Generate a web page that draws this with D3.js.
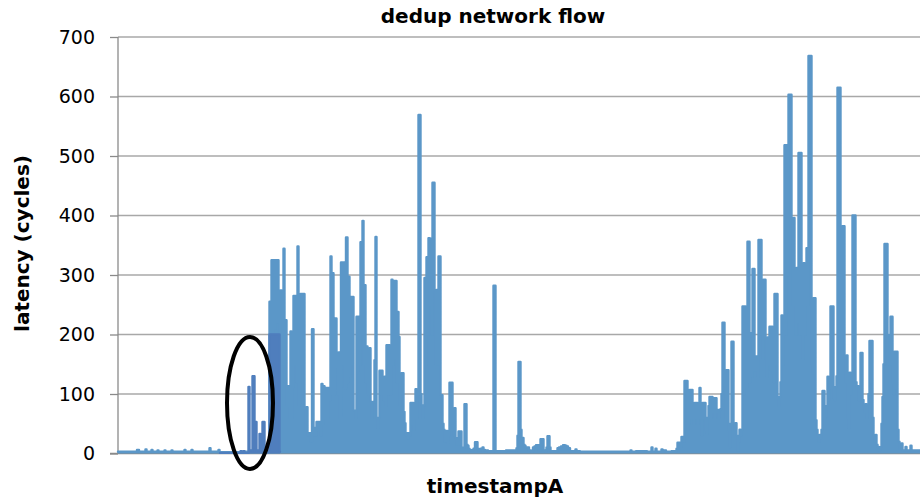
<!DOCTYPE html>
<html><head><meta charset="utf-8">
<script src="https://cdn.jsdelivr.net/npm/d3@7/dist/d3.min.js"></script>
<style>
html,body{margin:0;padding:0;background:#fff;}
svg{display:block;font-family:"DejaVu Sans",sans-serif;}
</style></head>
<body><svg id="chart" width="920" height="501"></svg>
<script>
// ---- data ----
const title = "dedup network flow";
const xTitle = "timestampA";
const yTitle = "latency (cycles)";
const yTicks = [0, 100, 200, 300, 400, 500, 600, 700];
const tDomain = [0, 802];
// main series samples: [timestamp, latency]
const flow = [
[0,3],[18,3],[20,6],[22,3],[27,3],[28,7],[29,3],[33,3],[34,6],[35,3],[39,3],[40,5],[41,3],[46,3],[47,5],[48,3],
[53,3],[54,5],[55,3],[66,3],[67,6],[68,3],[73,3],[74,6],[75,3],[91,3],[92,9],[93,3],[100,3],[101,6],[102,2],[151,3],
[152,255],[153,150],[154,325],[155,200],[156,325],[157,210],[158,325],[159,220],[160,325],[161,274],[162,200],[163,274],
[164,150],[165,274],[166,344],[167,120],[168,224],[169,80],[170,113],[171,113],[172,60],[173,205],[174,60],[175,113],
[176,265],[177,150],[178,265],[179,120],[180,348],[181,80],[182,85],[183,268],[184,150],[185,268],[186,268],[187,78],
[188,40],[189,78],[190,30],[192,34],[193,20],[195,209],[196,30],[197,43],[198,30],[199,53],[200,40],[201,53],[202,53],
[203,30],[204,117],[205,50],[206,113],[207,60],[209,110],[210,60],[211,110],[212,90],[213,331],[214,100],[215,303],
[216,100],[218,227],[219,145],[220,100],[221,170],[222,60],[224,321],[225,150],[226,321],[227,110],[229,363],[230,120],
[231,297],[232,130],[233,263],[234,150],[235,263],[236,72],[237,72],[238,60],[239,230],[240,140],[241,230],[242,150],
[243,355],[244,200],[245,391],[246,150],[247,283],[248,120],[249,180],[250,100],[251,140],[252,177],[253,87],[254,60],
[255,85],[256,87],[257,157],[258,364],[259,60],[260,43],[261,60],[262,139],[263,100],[264,139],[265,129],[266,90],
[267,129],[268,80],[269,182],[270,100],[271,182],[272,112],[273,100],[274,292],[275,150],[276,290],[277,160],[278,290],
[279,120],[280,238],[281,196],[282,80],[283,100],[284,135],[285,135],[286,70],[287,51],[288,30],[289,34],[290,25],
[291,34],[292,30],[293,85],[294,50],[295,85],[296,40],[297,60],[298,108],[299,60],[300,100],[301,569],[302,569],
[303,100],[304,81],[305,60],[306,81],[307,295],[308,150],[309,330],[310,200],[311,362],[312,250],[313,361],[314,200],
[315,455],[316,455],[317,275],[318,150],[319,275],[320,150],[321,331],[322,331],[323,98],[324,98],[325,50],[326,40],
[327,20],[328,30],[329,38],[330,18],[331,30],[332,119],[333,40],[334,119],[335,76],[336,30],[337,76],[338,26],[339,15],
[340,26],[341,37],[342,15],[343,37],[344,10],[345,9],[346,10],[347,83],[348,83],[349,15],[350,13],[351,8],[352,6],
[354,5],[355,6],[356,8],[358,19],[359,19],[360,8],[361,5],[364,8],[365,10],[366,6],[368,5],[369,5],[371,4],[375,4],
[376,282],[377,282],[378,4],[398,5],[399,9],[400,30],[401,154],[402,154],[403,40],[404,26],[405,26],[406,15],[407,13],
[408,10],[410,10],[412,5],[414,4],[416,10],[417,12],[419,14],[420,14],[422,5],[423,24],[424,24],[425,24],[426,5],
[428,4],[429,10],[430,29],[431,29],[432,10],[433,4],[439,4],[440,9],[442,10],[444,12],[446,14],[448,13],[449,12],
[451,9],[453,4],[457,4],[458,7],[459,4],[465,3],[512,3],[513,5],[514,3],[522,4],[525,4],[533,3],[534,10],[535,3],
[537,3],[538,8],[539,3],[543,3],[544,7],[545,3],[547,5],[549,3],[558,4],[559,8],[560,18],[562,18],[563,12],[564,28],
[565,28],[566,20],[567,122],[568,122],[569,122],[570,40],[571,50],[572,107],[573,60],[574,107],[575,65],[576,50],
[577,85],[578,60],[579,85],[580,50],[581,76],[582,110],[583,60],[584,31],[585,85],[586,60],[587,85],[588,40],[589,34],
[590,60],[591,80],[592,95],[593,60],[594,95],[595,70],[596,93],[597,60],[598,93],[599,70],[600,73],[601,60],[602,73],
[603,75],[604,100],[605,220],[606,220],[607,115],[608,60],[609,140],[610,140],[611,40],[612,11],[613,50],[614,188],
[615,188],[616,51],[617,40],[618,51],[619,30],[620,5],[621,20],[622,40],[623,30],[624,40],[625,247],[626,100],
[627,247],[628,112],[629,112],[630,356],[631,356],[632,120],[633,202],[634,130],[635,310],[636,310],[637,140],
[638,163],[639,163],[640,130],[641,359],[642,200],[643,359],[644,292],[645,160],[646,292],[647,292],[648,195],
[649,130],[650,195],[651,150],[652,213],[653,140],[654,213],[655,135],[656,120],[657,268],[658,150],[659,268],
[660,95],[661,80],[662,95],[663,120],[664,232],[665,150],[666,232],[667,518],[668,200],[669,518],[670,300],[671,603],
[672,603],[673,603],[674,396],[675,250],[676,396],[677,312],[678,200],[679,312],[680,220],[681,505],[682,200],
[683,505],[684,272],[685,160],[686,320],[687,200],[688,320],[689,345],[690,250],[691,668],[692,668],[693,668],
[694,150],[695,135],[696,261],[697,261],[698,56],[699,40],[700,31],[701,20],[702,31],[703,26],[704,40],[705,105],
[706,105],[707,60],[708,62],[709,80],[710,129],[711,90],[712,129],[713,247],[714,110],[715,247],[716,93],[717,90],
[718,112],[719,130],[720,615],[721,200],[722,615],[723,332],[724,200],[725,382],[726,382],[727,165],[728,120],
[729,165],[730,60],[731,43],[732,136],[733,100],[734,136],[735,400],[736,200],[737,400],[738,120],[739,113],[740,113],
[741,90],[742,100],[743,169],[744,169],[745,90],[746,80],[747,70],[748,83],[749,60],[750,83],[751,100],[752,189],
[753,120],[754,189],[755,60],[756,31],[757,20],[758,31],[759,15],[760,11],[762,6],[763,11],[764,50],[765,95],
[766,150],[767,352],[768,200],[769,352],[770,150],[771,199],[772,150],[773,230],[774,230],[775,120],[776,100],
[777,171],[778,110],[779,171],[780,40],[781,20],[782,8],[783,10],[784,17],[785,5],[787,5],[788,11],[789,5],[792,5],
[793,13],[794,5],[802,5]
];
// highlighted (darker) segment: [timestamp, latency]
const highlight = [
[102,1],[122,1],[123,4],[124,1],[126,4],[127,1],[130,1],[131,112],[132,5],[134,5],[135,130],[136,130],[137,10],
[138,53],[139,5],[141,5],[142,33],[143,3],[144,3],[145,53],[146,53],[147,3],[151,3],[152,200],[161,200],[162,3]
];
// annotation ellipse centre (timestamp, latency)
const annot = {t: 132, v: 85};
</script>
<script>
const W = 920, H = 501;
const m = {left: 118, right: 0, top: 37, bottom: 47.5};
const svg = d3.select("#chart");
const x = d3.scaleLinear().domain(tDomain).range([m.left, W - m.right]);
const y = d3.scaleLinear().domain([0, 700]).range([H - m.bottom, m.top]);

// y axis ticks + labels
const gy = svg.append("g").attr("transform", `translate(${m.left},0)`)
  .call(d3.axisLeft(y).tickValues(yTicks).tickSize(8).tickPadding(15).tickFormat(d3.format("d")));
gy.select(".domain").remove();
gy.selectAll(".tick line").attr("stroke", "#8a8a8a").attr("stroke-width", 1.3);
gy.selectAll(".tick text").attr("font-size", 19).attr("fill", "#000")
  .attr("font-family", "'DejaVu Sans', sans-serif");
// gridlines
svg.append("g").selectAll("line").data(yTicks.filter(d => d > 0)).join("line")
  .attr("x1", m.left).attr("x2", W).attr("y1", d => y(d)).attr("y2", d => y(d))
  .attr("stroke", "#a8a8a8").attr("stroke-width", 1.4);
// axis lines
svg.append("line").attr("x1", m.left).attr("x2", m.left).attr("y1", y(700)).attr("y2", y(0))
  .attr("stroke", "#8a8a8a").attr("stroke-width", 1.3);
svg.append("line").attr("x1", m.left - 8).attr("x2", W).attr("y1", y(0)).attr("y2", y(0))
  .attr("stroke", "#8a8a8a").attr("stroke-width", 1.6);

// dense line: drawn as filled envelope plus stroked outline
const area = d3.area().curve(d3.curveStep).x(d => x(d[0])).y0(y(0)).y1(d => y(d[1]));
const line = d3.line().curve(d3.curveStep).x(d => x(d[0])).y(d => y(d[1]));
function drawSeries(data, color) {
  svg.append("path").datum(data).attr("d", area).attr("fill", color);
  svg.append("path").datum(data).attr("d", line).attr("fill", "none").attr("stroke", color)
    .attr("stroke-width", 2.4).attr("stroke-linejoin", "round").attr("stroke-linecap", "round");
}
drawSeries(flow, "#5b97c8");
drawSeries(highlight, "#4f7ebd");

// ellipse annotation
svg.append("ellipse")
  .attr("cx", x(annot.t)).attr("cy", y(annot.v))
  .attr("rx", 23).attr("ry", 66)
  .attr("fill", "none").attr("stroke", "#000").attr("stroke-width", 4);

// titles
svg.append("text").attr("x", 493).attr("y", 23).attr("text-anchor", "middle")
  .attr("font-size", 20).attr("font-weight", "bold").text(title);
svg.append("text").attr("x", 495).attr("y", 493).attr("text-anchor", "middle")
  .attr("font-size", 20).attr("font-weight", "bold").text(xTitle);
svg.append("text").attr("transform", `translate(29,243.5) rotate(-90)`).attr("text-anchor", "middle")
  .attr("font-size", 20).attr("font-weight", "bold").text(yTitle);
</script>
</body></html>
